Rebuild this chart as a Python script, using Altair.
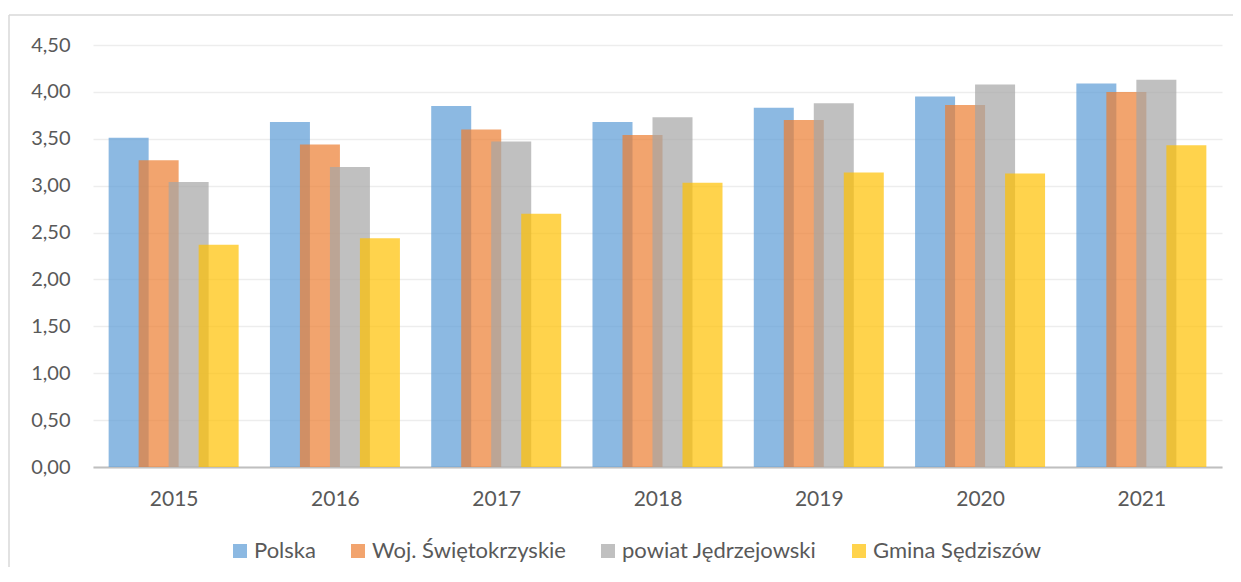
import altair as alt
import pandas as pd

years = ["2015", "2016", "2017", "2018", "2019", "2020", "2021"]
series = ["Polska", "Woj. Świętokrzyskie", "powiat Jędrzejowski", "Gmina Sędziszów"]
polska = [3.51, 3.68, 3.85, 3.68, 3.83, 3.95, 4.09]
woj = [3.27, 3.44, 3.60, 3.54, 3.70, 3.86, 4.00]
powiat = [3.04, 3.20, 3.47, 3.73, 3.88, 4.08, 4.13]
gmina = [2.37, 2.44, 2.70, 3.03, 3.14, 3.13, 3.43]
colors = ["#5B9BD5", "#ED7D31", "#A5A5A5", "#FFC000"]

rows = []
for si, (name, vals) in enumerate(zip(series, [polska, woj, powiat, gmina])):
    for yi, (yr, v) in enumerate(zip(years, vals)):
        rows.append({"year": yr, "yi": yi, "series": name, "si": si, "value": v})
df = pd.DataFrame(rows)

W, H = 1129, 422
unit = W / 7.0
step = 30 / unit

font = "Lato"
label_expr = "[" + ",".join(f"'{y}'" for y in years) + "][datum.value]"

bars = alt.Chart(df).transform_calculate(
    xpos=f"datum.yi + (datum.si - 1.5) * {step}"
).mark_bar(size=40, opacity=0.7).encode(
    x=alt.X("xpos:Q", scale=alt.Scale(domain=[-0.5, 6.5], nice=False, zero=False, padding=0),
            axis=alt.Axis(values=list(range(7)), labelExpr=label_expr, title=None,
                          grid=False, ticks=False, domainColor="#BFBFBF", domainWidth=2,
                          labelFont=font, labelFontSize=21, labelColor="#595959",
                          labelPadding=21)),
    y=alt.Y("value:Q", scale=alt.Scale(domain=[0, 4.5], nice=False),
            axis=alt.Axis(values=[i * 0.5 for i in range(10)], format=".2f",
                          labelExpr="replace(format(datum.value, '.2f'), '.', ',')",
                          title=None, domain=False, ticks=False, gridColor="#EDEDED",
                          gridWidth=1.5, labelFont=font, labelFontSize=20,
                          labelColor="#595959", labelPadding=23)),
    color=alt.Color("series:N", scale=alt.Scale(domain=series, range=colors),
                    sort=series,
                    legend=alt.Legend(orient="none", legendX=136, legendY=495,
                                      direction="horizontal", title=None,
                                      symbolType="square", symbolSize=196,
                                      symbolOpacity=0.7, symbolStrokeWidth=0,
                                      labelFont=font, labelFontSize=22, labelLimit=0,
                                      labelColor="#595959", columnPadding=31,
                                      labelOffset=3)),
    order=alt.Order("si:Q"),
)

border_top = alt.Chart(pd.DataFrame({"k": [0]})).mark_rule(color="#D9D9D9", strokeWidth=1.5).encode(
    x=alt.value(-84), x2=alt.value(W + 20), y=alt.value(-30)
)
border_left = alt.Chart(pd.DataFrame({"k": [0]})).mark_rule(color="#D9D9D9", strokeWidth=1.5).encode(
    x=alt.value(-84), y=alt.value(-30), y2=alt.value(H + 120)
)

chart = alt.layer(border_top, border_left, bars).properties(
    width=W, height=H,
    padding={"left": 85, "top": 37, "right": 11, "bottom": 100},
    autosize=alt.AutoSizeParams(type="none"),
).configure_view(stroke=None)

chart.save("out.html", embed_options={"renderer": "svg", "actions": False})
